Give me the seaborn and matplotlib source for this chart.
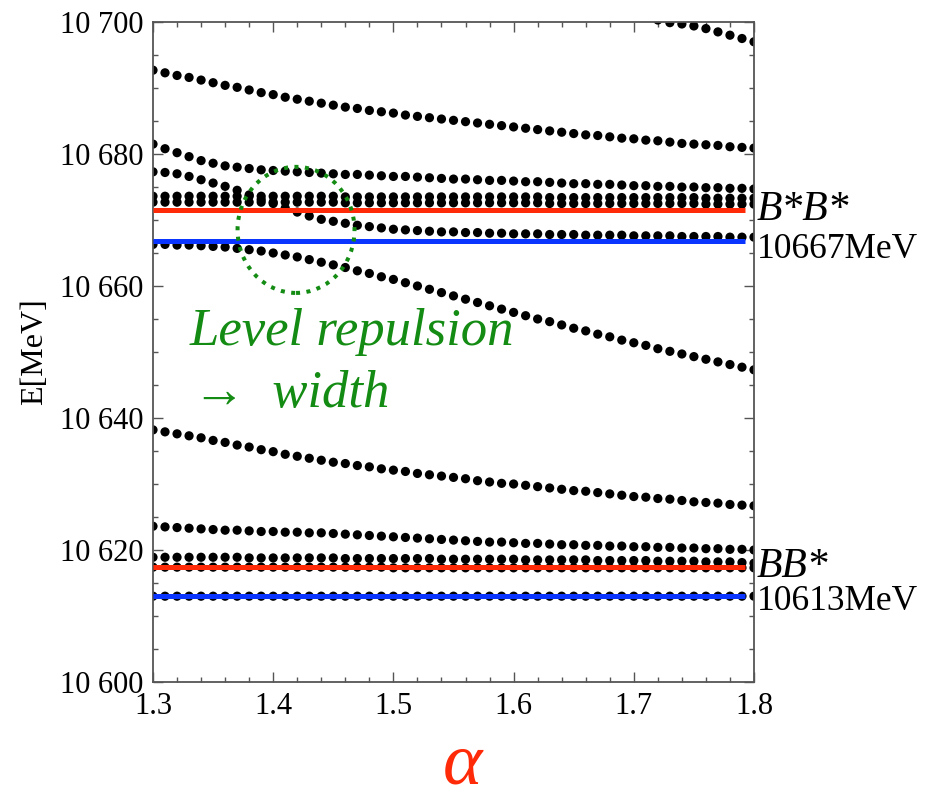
import numpy as np
import pandas as pd
import matplotlib
matplotlib.use("Agg")
import matplotlib.pyplot as plt
from matplotlib.patches import Ellipse
from matplotlib.ticker import MultipleLocator, FuncFormatter
import seaborn as sns

# ---------------- data ----------------
alpha = [1.30, 1.31, 1.32, 1.33, 1.34, 1.35, 1.36, 1.37, 1.38, 1.39,
         1.40, 1.41, 1.42, 1.43, 1.44, 1.45, 1.46, 1.47, 1.48, 1.49,
         1.50, 1.51, 1.52, 1.53, 1.54, 1.55, 1.56, 1.57, 1.58, 1.59,
         1.60, 1.61, 1.62, 1.63, 1.64, 1.65, 1.66, 1.67, 1.68, 1.69,
         1.70, 1.71, 1.72, 1.73, 1.74, 1.75, 1.76, 1.77, 1.78, 1.79,
         1.80]

alpha_top = [1.72, 1.73, 1.74, 1.75, 1.76, 1.77, 1.78, 1.79, 1.80]
level_top = [10700.3, 10699.9, 10699.7, 10699.4, 10699.0, 10698.5, 10698.0, 10697.5, 10697.0]

level_b = [10692.7, 10692.3, 10691.9, 10691.6, 10691.2, 10690.8, 10690.4, 10690.1, 10689.7, 10689.3,
           10689.0, 10688.6, 10688.3, 10688.0, 10687.7, 10687.4, 10687.1, 10686.9, 10686.6, 10686.4,
           10686.2, 10685.9, 10685.7, 10685.5, 10685.3, 10685.1, 10684.9, 10684.7, 10684.5, 10684.3,
           10684.1, 10683.9, 10683.7, 10683.5, 10683.3, 10683.1, 10682.9, 10682.8, 10682.6, 10682.4,
           10682.3, 10682.1, 10682.0, 10681.8, 10681.6, 10681.5, 10681.4, 10681.3, 10681.1, 10681.0,
           10680.9]

level_c = [10681.5, 10680.8, 10680.2, 10679.6, 10679.0, 10678.6, 10678.2, 10678.0, 10677.8, 10677.6,
           10677.5, 10677.4, 10677.3, 10677.2, 10677.1, 10677.0, 10676.9, 10676.9, 10676.8, 10676.7,
           10676.6, 10676.6, 10676.5, 10676.4, 10676.3, 10676.2, 10676.2, 10676.1, 10676.0, 10676.0,
           10675.9, 10675.8, 10675.8, 10675.7, 10675.6, 10675.5, 10675.5, 10675.4, 10675.4, 10675.3,
           10675.2, 10675.2, 10675.1, 10675.1, 10675.0, 10675.0, 10674.9, 10674.9, 10674.8, 10674.8,
           10674.7]

level_d = [10677.3, 10677.2, 10677.0, 10676.6, 10676.1, 10675.6, 10675.1, 10674.5, 10673.8, 10673.1,
           10672.5, 10671.8, 10671.2, 10670.6, 10670.1, 10669.8, 10669.5, 10669.2, 10669.0, 10668.8,
           10668.6, 10668.5, 10668.4, 10668.3, 10668.2, 10668.2, 10668.1, 10668.1, 10668.0, 10668.0,
           10667.9, 10667.9, 10667.9, 10667.8, 10667.8, 10667.8, 10667.7, 10667.7, 10667.7, 10667.7,
           10667.6, 10667.6, 10667.6, 10667.6, 10667.5, 10667.5, 10667.5, 10667.5, 10667.4, 10667.4,
           10667.4]

band_1 = [10673.6, 10673.6, 10673.6, 10673.6, 10673.6, 10673.6, 10673.6, 10673.6, 10673.6, 10673.6,
          10673.6, 10673.6, 10673.6, 10673.6, 10673.6, 10673.6, 10673.5, 10673.5, 10673.5, 10673.5,
          10673.5, 10673.5, 10673.5, 10673.5, 10673.5, 10673.5, 10673.5, 10673.5, 10673.5, 10673.5,
          10673.5, 10673.5, 10673.5, 10673.4, 10673.4, 10673.4, 10673.4, 10673.4, 10673.4, 10673.4,
          10673.4, 10673.4, 10673.4, 10673.4, 10673.4, 10673.4, 10673.3, 10673.3, 10673.3, 10673.3,
          10673.3]

band_2 = [10672.7, 10672.7, 10672.7, 10672.7, 10672.7, 10672.7, 10672.7, 10672.7, 10672.7, 10672.7,
          10672.7, 10672.7, 10672.7, 10672.7, 10672.7, 10672.7, 10672.6, 10672.6, 10672.6, 10672.6,
          10672.6, 10672.6, 10672.6, 10672.6, 10672.6, 10672.6, 10672.6, 10672.6, 10672.6, 10672.6,
          10672.6, 10672.6, 10672.6, 10672.5, 10672.5, 10672.5, 10672.5, 10672.5, 10672.5, 10672.5,
          10672.5, 10672.5, 10672.5, 10672.5, 10672.5, 10672.5, 10672.4, 10672.4, 10672.4, 10672.4,
          10672.4]

level_e = [10666.3, 10666.3, 10666.2, 10666.2, 10666.1, 10666.0, 10665.9, 10665.7, 10665.5, 10665.3,
           10665.0, 10664.7, 10664.4, 10664.0, 10663.6, 10663.2, 10662.8, 10662.3, 10661.9, 10661.4,
           10661.0, 10660.5, 10660.0, 10659.5, 10659.0, 10658.5, 10658.0, 10657.5, 10657.0, 10656.5,
           10656.0, 10655.5, 10655.0, 10654.6, 10654.1, 10653.6, 10653.2, 10652.7, 10652.3, 10651.8,
           10651.4, 10651.0, 10650.5, 10650.1, 10649.7, 10649.3, 10648.9, 10648.5, 10648.1, 10647.7,
           10647.3]

level_f = [10638.2, 10637.9, 10637.6, 10637.3, 10637.0, 10636.6, 10636.3, 10635.9, 10635.6, 10635.2,
           10634.9, 10634.5, 10634.2, 10633.9, 10633.6, 10633.3, 10633.1, 10632.8, 10632.6, 10632.3,
           10632.1, 10631.9, 10631.6, 10631.4, 10631.2, 10631.0, 10630.8, 10630.5, 10630.3, 10630.1,
           10630.0, 10629.8, 10629.6, 10629.4, 10629.2, 10629.0, 10628.9, 10628.7, 10628.5, 10628.3,
           10628.1, 10628.0, 10627.8, 10627.7, 10627.5, 10627.3, 10627.2, 10627.1, 10626.9, 10626.8,
           10626.7]

level_g = [10623.6, 10623.5, 10623.4, 10623.3, 10623.2, 10623.1, 10623.0, 10623.0, 10622.9, 10622.8,
           10622.8, 10622.7, 10622.7, 10622.6, 10622.6, 10622.5, 10622.4, 10622.3, 10622.2, 10622.1,
           10622.0, 10621.9, 10621.8, 10621.7, 10621.6, 10621.5, 10621.4, 10621.3, 10621.2, 10621.2,
           10621.1, 10621.0, 10621.0, 10620.9, 10620.8, 10620.8, 10620.7, 10620.7, 10620.6, 10620.6,
           10620.5, 10620.5, 10620.4, 10620.4, 10620.3, 10620.3, 10620.2, 10620.2, 10620.1, 10620.1,
           10620.0]

level_h = [10618.9, 10618.9, 10618.9, 10618.9, 10618.9, 10618.9, 10618.9, 10618.9, 10618.8, 10618.8,
           10618.8, 10618.8, 10618.8, 10618.8, 10618.8, 10618.8, 10618.7, 10618.7, 10618.7, 10618.7,
           10618.7, 10618.7, 10618.7, 10618.7, 10618.6, 10618.6, 10618.6, 10618.6, 10618.6, 10618.6,
           10618.6, 10618.5, 10618.5, 10618.5, 10618.5, 10618.5, 10618.5, 10618.4, 10618.4, 10618.4,
           10618.4, 10618.4, 10618.3, 10618.3, 10618.3, 10618.3, 10618.2, 10618.2, 10618.2, 10618.1,
           10618.0]

level_i = [10617.4, 10617.4, 10617.4, 10617.4, 10617.4, 10617.4, 10617.4, 10617.4, 10617.4, 10617.4,
           10617.4, 10617.4, 10617.4, 10617.4, 10617.4, 10617.4, 10617.4, 10617.4, 10617.4, 10617.4,
           10617.3, 10617.3, 10617.3, 10617.3, 10617.3, 10617.3, 10617.3, 10617.3, 10617.3, 10617.3,
           10617.3, 10617.3, 10617.3, 10617.3, 10617.3, 10617.3, 10617.3, 10617.3, 10617.3, 10617.3,
           10617.3, 10617.3, 10617.3, 10617.3, 10617.3, 10617.3, 10617.3, 10617.3, 10617.3, 10617.3,
           10617.3]

level_j = [10613.0, 10613.0, 10613.0, 10613.0, 10613.0, 10613.0, 10613.0, 10613.0, 10613.0, 10613.0,
           10613.0, 10613.0, 10613.0, 10613.0, 10613.0, 10613.0, 10613.0, 10613.0, 10613.0, 10613.0,
           10613.0, 10613.0, 10613.0, 10613.0, 10613.0, 10613.0, 10613.0, 10613.0, 10613.0, 10613.0,
           10613.0, 10613.0, 10613.0, 10613.0, 10613.0, 10613.0, 10613.0, 10613.0, 10613.0, 10613.0,
           10613.0, 10613.0, 10613.0, 10613.0, 10613.0, 10613.0, 10613.0, 10613.0, 10613.0, 10613.0,
           10613.0]

threshold_red = [10671.5, 10617.4]      # B*B*, BB*
threshold_blue = [10666.8, 10613.0]     # 10667 MeV, 10613 MeV
channel_labels = ["B*B*", "BB*"]
energy_labels = ["10667MeV", "10613MeV"]

x_ticks = [1.3, 1.4, 1.5, 1.6, 1.7, 1.8]
y_ticks = [10600, 10620, 10640, 10660, 10680, 10700]

# ---------------- style ----------------
sns.set_theme(style="ticks")
plt.rcParams["font.family"] = ["Liberation Serif", "DejaVu Serif"]
plt.rcParams["text.color"] = "black"
plt.rcParams["axes.labelcolor"] = "black"

BLACK = "#000000"
RED = "#ff2a08"
BLUE = "#0a34ff"
GREEN = "#148c14"
FRAME = "#555555"

fig = plt.figure(figsize=(9.30, 7.99), dpi=100)
ax = fig.add_axes([153 / 930, 1 - 682 / 799, 601 / 930, 660 / 799])

# long-form data for seaborn
levels = {
    "b": (alpha, level_b), "c": (alpha, level_c), "d": (alpha, level_d),
    "band1": (alpha, band_1), "band2": (alpha, band_2), "e": (alpha, level_e),
    "f": (alpha, level_f), "g": (alpha, level_g), "h": (alpha, level_h),
    "i": (alpha, level_i), "j": (alpha, level_j), "top": (alpha_top, level_top),
}
frames = []
for name, (xs, ys) in levels.items():
    frames.append(pd.DataFrame({"alpha": xs, "E": ys, "level": name}))
df = pd.concat(frames, ignore_index=True)

sns.scatterplot(data=df, x="alpha", y="E", hue="level",
                palette=[BLACK] * len(levels), s=44, linewidth=0,
                legend=False, ax=ax, zorder=2)

x_end = 1.7925
ax.hlines(threshold_red, x_ticks[0], x_end, colors=RED, linewidth=3.6, zorder=3)
ax.hlines(threshold_blue, x_ticks[0], x_end, colors=BLUE, linewidth=3.6, zorder=3)

ax.set_xlim(x_ticks[0], x_ticks[-1])
ax.set_ylim(y_ticks[0], y_ticks[-1])
ax.set_xticks(x_ticks)
ax.set_yticks(y_ticks)
ax.xaxis.set_minor_locator(MultipleLocator(0.02))
ax.yaxis.set_minor_locator(MultipleLocator(5))
ax.xaxis.set_major_formatter(FuncFormatter(lambda v, p: f"{v:.1f}"))
ax.yaxis.set_major_formatter(FuncFormatter(lambda v, p: f"{int(round(v)):,}".replace(",", " ")))

ax.tick_params(which="both", direction="in", top=True, right=True,
               color=FRAME, width=1.0, labelsize=22, labelcolor="black")
ax.tick_params(which="major", length=7, pad=7)
ax.tick_params(which="minor", length=3.5)
for sp in ax.spines.values():
    sp.set_color(FRAME)
    sp.set_linewidth(1.3)

ax.set_xlabel("")
ax.set_ylabel("E[MeV]", fontsize=23, labelpad=8, color="black")

# right-hand threshold labels
label_x = 1.8025
ax.text(label_x, 10670.0, channel_labels[0], fontsize=30, style="italic",
        color="black", ha="left", va="baseline", clip_on=False)
ax.text(label_x, 10664.2, energy_labels[0], fontsize=25.5,
        color="black", ha="left", va="baseline", clip_on=False)
ax.text(label_x, 10615.9, channel_labels[1], fontsize=30, style="italic",
        color="black", ha="left", va="baseline", clip_on=False)
ax.text(label_x, 10610.9, energy_labels[1], fontsize=25.5,
        color="black", ha="left", va="baseline", clip_on=False)

# level repulsion annotation
ell = Ellipse((1.419, 10668.5), 0.0973, 19.1, fill=False, edgecolor=GREEN,
              linewidth=2.9, linestyle=(0, (1, 1.6)), zorder=4)
ax.add_patch(ell)
fig.text(190 / 930, 1 - 345 / 799, "Level repulsion", color=GREEN, fontsize=38,
         style="italic", ha="left", va="baseline")
fig.text(193 / 930, 1 - 407 / 799, "\u2192  width", color=GREEN, fontsize=38,
         style="italic", ha="left", va="baseline")

# alpha axis label
fig.text(462 / 930, 1 - 783 / 799, "\u03b1", color=RED, fontsize=54,
         style="italic", ha="center", va="baseline")

fig.savefig("out.png", dpi=100)
